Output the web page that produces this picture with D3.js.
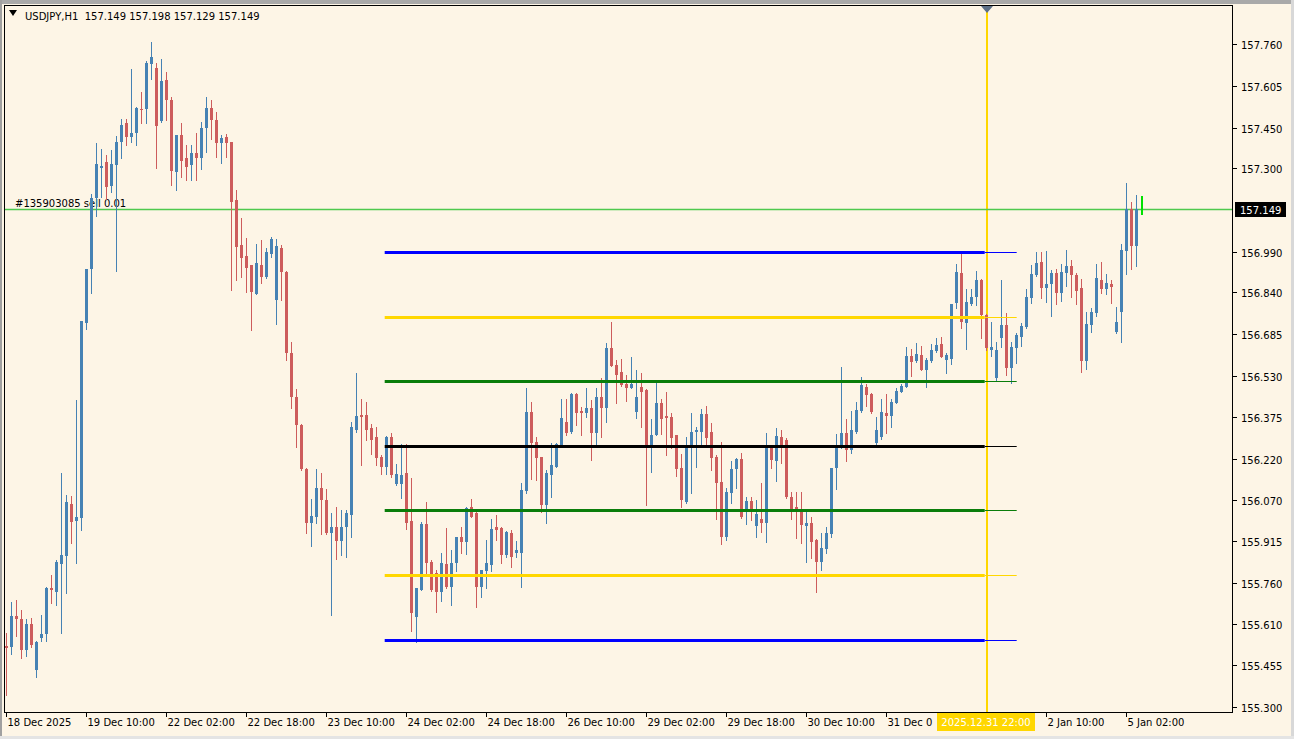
<!DOCTYPE html>
<html><head><meta charset="utf-8">
<script src="https://cdn.jsdelivr.net/npm/d3@7"></script>
<style>html,body{margin:0;padding:0;background:#fdf5e6;overflow:hidden}</style>
</head><body><svg id="c" width="1294" height="739"></svg>
<script>
// USDJPY H1 bars, index 0 = 18 Dec 2025 18:00
const opens=[155.526,155.523,155.638,155.627,155.512,155.608,155.437,155.556,155.571,155.742,
155.727,155.831,155.862,156.055,155.989,156.002,156.727,156.928,157.190,157.303,
157.322,157.234,157.314,157.398,157.468,157.416,157.430,157.520,157.520,157.687,
157.674,157.476,157.628,157.552,157.286,157.425,157.338,157.314,157.358,157.337,
157.450,157.524,157.479,157.394,157.416,157.398,157.182,157.015,156.975,156.941,
156.833,156.941,156.898,156.982,156.811,157.003,156.916,156.614,156.452,156.347,
156.184,155.984,156.005,156.113,156.069,155.946,155.968,155.917,155.968,156.013,
156.328,156.384,156.384,156.336,156.302,156.228,156.191,156.302,156.128,156.128,
156.169,155.991,155.635,155.734,155.979,155.838,155.797,155.728,155.831,155.747,
155.835,155.931,155.913,156.043,156.020,155.747,155.806,155.827,155.968,155.964,
155.864,155.946,155.873,155.873,156.103,156.395,156.284,156.228,156.050,156.161,
156.192,156.273,156.359,156.322,156.462,156.400,156.393,156.410,156.317,156.451,
156.411,156.633,156.570,156.544,156.499,156.486,156.395,156.488,156.477,156.269,
156.310,156.430,156.380,156.377,156.310,156.188,156.062,156.266,156.321,156.321,
156.388,156.322,156.228,156.136,155.931,156.095,156.184,156.221,156.029,156.066,
155.972,155.998,155.983,156.262,156.214,156.304,156.290,156.080,156.044,156.035,
155.972,155.983,155.920,155.839,155.885,155.942,156.187,156.262,156.318,156.254,
156.322,156.400,156.488,156.462,156.280,156.302,156.392,156.380,156.430,156.471,
156.489,156.603,156.586,156.607,156.551,156.586,156.622,156.648,156.588,156.592,
156.800,156.912,156.727,156.796,156.822,156.885,156.755,156.625,156.522,156.670,
156.718,156.559,156.633,156.675,156.712,156.819,156.905,156.953,156.856,156.871,
156.912,156.837,156.912,156.938,156.904,156.856,156.586,156.718,156.764,156.885,
156.852,156.871,156.693,156.768,156.994,157.149,157.012,157.149];
const highs=[155.575,155.688,155.697,155.660,155.627,155.632,155.545,155.643,155.746,155.790,
155.846,156.169,156.087,156.083,156.440,156.735,156.928,157.206,157.394,157.373,
157.350,157.369,157.420,157.483,157.483,157.669,157.528,157.583,157.699,157.769,
157.690,157.706,157.658,157.565,157.425,157.468,157.388,157.387,157.433,157.472,
157.565,157.554,157.509,157.424,157.428,157.398,157.220,157.116,157.042,156.941,
157.019,157.034,157.004,157.045,157.038,157.015,156.920,156.656,156.481,156.350,
156.188,156.072,156.184,156.170,156.109,156.021,156.044,156.031,156.031,156.359,
156.541,156.444,156.434,156.351,156.341,156.236,156.306,156.317,156.202,156.276,
156.276,156.151,155.742,155.988,156.062,155.846,155.809,155.873,155.965,155.883,
155.931,155.969,156.044,156.072,156.025,155.809,155.920,155.998,156.013,155.969,
155.955,155.957,155.917,156.133,156.484,156.434,156.304,156.229,156.180,156.280,
156.280,156.444,156.444,156.467,156.467,156.415,156.484,156.440,156.484,156.522,
156.653,156.731,156.588,156.592,156.533,156.601,156.551,156.541,156.480,156.369,
156.504,156.444,156.471,156.392,156.310,156.239,156.304,156.392,156.341,156.406,
156.418,156.356,156.236,156.285,156.113,156.214,156.224,156.243,156.081,156.081,
156.069,156.133,156.317,156.273,156.336,156.328,156.299,156.099,156.099,156.099,
156.025,156.007,155.925,155.946,155.968,156.187,156.314,156.563,156.369,156.400,
156.434,156.525,156.499,156.465,156.378,156.444,156.462,156.444,156.484,156.499,
156.638,156.629,156.651,156.640,156.596,156.648,156.670,156.675,156.614,156.796,
156.945,156.986,156.852,156.852,156.920,156.889,156.760,156.731,156.656,156.885,
156.763,156.656,156.689,156.726,156.852,156.941,156.990,156.990,156.994,156.923,
156.926,156.945,156.997,156.960,156.912,156.889,156.768,156.781,156.945,156.953,
156.908,156.885,156.786,157.019,157.246,157.176,157.201,157.198];
const lows=[155.345,155.497,155.564,155.482,155.489,155.521,155.413,155.545,155.545,155.686,
155.679,155.576,155.723,155.909,155.835,155.957,156.703,156.837,157.123,157.195,
157.186,157.212,156.917,157.338,157.388,157.398,157.388,157.468,157.468,157.632,
157.301,157.472,157.479,157.239,157.220,157.268,157.258,157.257,157.257,157.298,
157.361,157.409,157.342,157.320,157.342,156.848,156.885,156.898,156.842,156.700,
156.833,156.874,156.893,156.972,156.722,156.811,156.588,156.410,156.266,156.180,
155.946,155.898,155.983,155.942,155.942,155.642,155.849,155.864,155.858,155.932,
156.322,156.199,156.291,156.239,156.199,156.165,156.165,156.155,156.124,156.076,
155.961,155.583,155.542,155.734,155.797,155.732,155.654,155.695,155.740,155.679,
155.806,155.872,155.868,156.005,155.672,155.710,155.742,155.806,155.920,155.836,
155.858,155.821,155.857,155.747,156.095,156.147,156.143,156.025,155.983,156.081,
156.192,156.273,156.310,156.318,156.347,156.310,156.378,156.217,156.273,156.304,
156.359,156.566,156.429,156.492,156.437,156.486,156.373,156.341,156.050,156.174,
156.310,156.314,156.236,156.262,156.158,156.043,156.059,156.096,156.192,156.273,
156.273,156.180,155.998,155.905,155.920,156.057,156.113,156.002,155.979,155.994,
155.932,155.951,155.914,156.187,156.140,156.206,156.076,155.998,155.927,155.909,
155.839,155.853,155.728,155.809,155.872,155.932,156.109,156.262,156.214,156.243,
156.317,156.396,156.418,156.392,156.273,156.295,156.318,156.341,156.429,156.470,
156.489,156.529,156.582,156.551,156.489,156.582,156.618,156.601,156.541,156.574,
156.781,156.707,156.629,156.793,156.793,156.670,156.625,156.603,156.515,156.638,
156.533,156.503,156.577,156.640,156.707,156.800,156.900,156.819,156.805,156.752,
156.796,156.808,156.863,156.823,156.796,156.545,156.555,156.693,156.752,156.837,
156.833,156.801,156.689,156.656,156.908,156.926,156.937,157.129];
const closes=[155.519,155.638,155.627,155.513,155.608,155.532,155.541,155.571,155.742,155.734,
155.838,155.864,156.061,155.987,156.005,156.735,156.928,157.190,157.316,157.309,
157.231,157.316,157.398,157.461,157.416,157.433,157.524,157.516,157.691,157.713,
157.457,157.624,157.552,157.290,157.425,157.327,157.305,157.357,157.337,157.450,
157.524,157.479,157.394,157.413,157.394,157.175,157.009,156.968,156.931,156.842,
156.947,156.895,156.990,157.038,157.012,156.916,156.614,156.452,156.347,156.184,
155.984,156.009,156.113,156.069,155.946,155.968,155.917,155.968,156.020,156.340,
156.380,156.377,156.328,156.291,156.224,156.191,156.302,156.161,156.165,156.161,
155.984,155.650,155.742,155.979,155.835,155.734,155.728,155.835,155.747,155.836,
155.931,155.914,156.039,156.007,155.747,155.809,155.835,155.961,155.957,155.864,
155.950,155.857,155.883,156.106,156.395,156.280,156.224,156.050,156.169,156.199,
156.276,156.373,156.318,156.462,156.393,156.393,156.410,156.318,156.451,156.411,
156.633,156.566,156.533,156.496,156.486,156.499,156.451,156.470,156.269,156.310,
156.430,156.369,156.373,156.300,156.184,156.069,156.273,156.322,156.328,156.388,
156.299,156.224,156.133,155.931,156.099,156.184,156.221,156.005,156.066,156.031,
156.017,155.983,156.262,156.217,156.306,156.262,156.080,156.035,156.031,155.976,
155.983,155.914,155.839,155.890,155.946,156.187,156.265,156.318,156.254,156.328,
156.403,156.496,156.458,156.396,156.328,156.396,156.380,156.432,156.474,156.493,
156.603,156.582,156.611,156.551,156.588,156.625,156.644,156.601,156.607,156.796,
156.916,156.731,156.805,156.823,156.885,156.755,156.633,156.637,156.625,156.718,
156.559,156.637,156.681,156.715,156.822,156.908,156.950,156.856,156.871,156.912,
156.837,156.916,156.938,156.904,156.846,156.586,156.722,156.768,156.893,156.852,
156.875,156.859,156.731,156.997,157.149,157.012,157.149,157.149];

const timeTickBars=[0,16,32,48,64,80,96,112,128,144,160,176,192,208,224];
// the 31 Dec 18:00 label is hidden under the crosshair time label in the reference
const timeTickLabels=["18 Dec 2025","19 Dec 10:00","22 Dec 02:00","22 Dec 18:00","23 Dec 10:00",
"24 Dec 02:00","24 Dec 18:00","26 Dec 10:00","29 Dec 02:00","29 Dec 18:00","30 Dec 10:00",
"31 Dec 02:00","","2 Jan 10:00","5 Jan 02:00"];
const priceTicks=[157.760,157.605,157.450,157.300,156.990,156.840,156.685,156.530,156.375,156.220,
156.070,155.915,155.760,155.610,155.455,155.300];
const priceTickLabels=["157.760","157.605","157.450","157.300","156.990","156.840","156.685","156.530",
"156.375","156.220","156.070","155.915","155.760","155.610","155.455","155.300"];
const levelValues=[156.989,156.748,156.510,156.269,156.031,155.790,155.549];
const levelColors=["#0000ff","#ffd700","#0a7d0a","#000000","#0a7d0a","#ffd700","#0000ff"];
const levelStartBar=75.6, levelMidBar=195.6, levelEndBar=202;
const vlineBar=196, vlineLabel="2025.12.31 22:00";
const currentPrice=157.149, orderLabel="#135903085 sell 0.01";
const headerText="USDJPY,H1  157.149 157.198 157.129 157.149";

const svg=d3.select('#c');
const F='"DejaVu Sans", Tahoma, Verdana, sans-serif';
const x=d3.scaleLinear().domain([0,227]).range([6.7,1141.7]);
const y=d3.scaleLinear().domain([155.300,157.149]).range([707,209]);
const bg="#fdf5e6";

svg.append('rect').attr('width',1294).attr('height',739).attr('fill',bg);
// window frame
svg.append('rect').attr('x',0).attr('y',0).attr('width',1294).attr('height',4).attr('fill','#a9a9a9');
svg.append('rect').attr('x',0).attr('y',0).attr('width',2).attr('height',739).attr('fill','#a0a0a0');
svg.append('rect').attr('x',1291).attr('y',0).attr('width',3).attr('height',739).attr('fill','#d8d8d8');
svg.append('rect').attr('x',0).attr('y',736).attr('width',1294).attr('height',3).attr('fill','#e4e4e4');
svg.append('rect').attr('x',4.5).attr('y',5.5).attr('width',1228).attr('height',707)
  .attr('fill','none').attr('stroke','#000').attr('stroke-width',1);

// header
svg.append('path').attr('d','M9,10 L17,10 L13,16 Z').attr('fill','#000');
svg.append('text').attr('x',25).attr('y',20).attr('font-family',F).attr('font-size',10)
  .attr('fill','#000').attr('xml:space','preserve').style('white-space','pre').text(headerText);

// vertical line (under candles)
const vx=Math.round(x(vlineBar));
svg.append('line').attr('x1',vx).attr('x2',vx).attr('y1',6).attr('y2',712)
  .attr('stroke','#ffd700').attr('stroke-width',2);
svg.append('path').attr('d',`M${vx-6},6 L${vx+6},6 L${vx},13 Z`).attr('fill','#5c6f86');

// order / price line
const yp=Math.round(y(currentPrice))+0.5;
svg.append('line').attr('x1',5).attr('x2',1232).attr('y1',yp).attr('y2',yp)
  .attr('stroke','#4ec94e').attr('stroke-width',1.3);
svg.append('text').attr('x',15).attr('y',yp-3).attr('font-family',F).attr('font-size',10)
  .attr('fill','#000').text(orderLabel);

// candles
const bars=d3.range(opens.length).map(i=>({i,o:opens[i],h:Math.max(highs[i],opens[i],closes[i]),
  l:Math.min(lows[i],opens[i],closes[i]),c:closes[i]}));
const colorOf=d=>d.c>d.o?'#4682b4':(d.c<d.o?'#cd5c5c':'#00e000');
const g=svg.append('g').attr('shape-rendering','crispEdges');
g.selectAll('line.w').data(bars).join('line').attr('class','w')
  .attr('x1',d=>Math.floor(x(d.i))+0.5).attr('x2',d=>Math.floor(x(d.i))+0.5)
  .attr('y1',d=>Math.round(y(d.h))).attr('y2',d=>Math.round(y(d.l))+1)
  .attr('stroke',colorOf).attr('stroke-width',d=>d.o===d.c?2:1);
g.selectAll('rect.b').data(bars.filter(d=>d.o!==d.c)).join('rect').attr('class','b')
  .attr('x',d=>Math.floor(x(d.i))-1).attr('width',3)
  .attr('y',d=>Math.round(y(Math.max(d.o,d.c))))
  .attr('height',d=>Math.max(1,Math.round(y(Math.min(d.o,d.c)))-Math.round(y(Math.max(d.o,d.c)))))
  .attr('fill',colorOf);

// levels (above candles)
const lg=svg.append('g');
levelValues.forEach((v,j)=>{
  const yy=Math.round(y(v))+0.5;
  lg.append('line').attr('x1',x(levelStartBar)).attr('x2',x(levelMidBar)).attr('y1',yy).attr('y2',yy)
    .attr('stroke',levelColors[j]).attr('stroke-width',3);
  lg.append('line').attr('x1',x(levelMidBar)).attr('x2',x(levelEndBar)).attr('y1',yy).attr('y2',yy)
    .attr('stroke',levelColors[j]).attr('stroke-width',1);
});

// right price axis
const ra=svg.append('g');
priceTicks.forEach((v,j)=>{
  const yy=Math.round(y(v))+0.5;
  ra.append('line').attr('x1',1233).attr('x2',1237).attr('y1',yy).attr('y2',yy).attr('stroke','#000');
  ra.append('text').attr('x',1241).attr('y',yy+4).attr('font-family',F).attr('font-size',10)
    .attr('fill','#000').text(priceTickLabels[j]);
});
ra.append('rect').attr('x',1235).attr('y',yp-7.5).attr('width',51).attr('height',15).attr('fill','#000');
ra.append('text').attr('x',1240).attr('y',yp+4).attr('font-family',F).attr('font-size',10)
  .attr('fill','#fff').text(currentPrice.toFixed(3));

// bottom time axis
const ba=svg.append('g');
const labelBoxX=vx-50;
svg.append('defs').append('clipPath').attr('id','tclip').append('rect')
  .attr('x',0).attr('y',700).attr('width',labelBoxX).attr('height',39);
timeTickBars.forEach((b,j)=>{
  const xx=Math.floor(x(b))+0.5;
  ba.append('line').attr('x1',xx).attr('x2',xx).attr('y1',713).attr('y2',717).attr('stroke','#000');
  if(timeTickLabels[j]){
    const t=ba.append('text').attr('x',xx+1).attr('y',726).attr('font-family',F).attr('font-size',10)
      .attr('fill','#000');
    if(xx<labelBoxX){
      // text that runs under the crosshair label is cut where the label starts
      const full=timeTickLabels[j];
      let s=full;
      t.text(s);
      while(s.length>1 && xx+1+t.node().getComputedTextLength()>labelBoxX){s=s.slice(0,-1);t.text(s);}
    } else t.text(timeTickLabels[j]);
  }
});
ba.append('rect').attr('x',labelBoxX).attr('y',713).attr('width',98).attr('height',18).attr('fill','#ffd700');
ba.append('text').attr('x',vx-1).attr('y',726).attr('text-anchor','middle').attr('font-family',F)
  .attr('font-size',10).attr('fill','#fff').text(vlineLabel);
</script></body></html>
